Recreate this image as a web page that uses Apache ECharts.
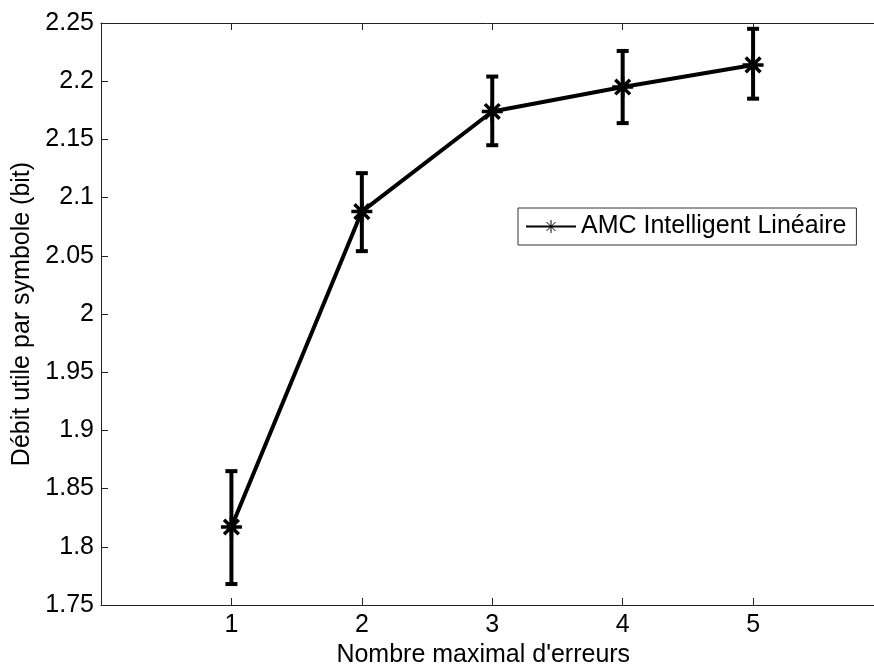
<!DOCTYPE html>
<html>
<head>
<meta charset="utf-8">
<script src="https://cdn.jsdelivr.net/npm/echarts@6/dist/echarts.min.js"></script>
<style>
  html, body { margin: 0; padding: 0; background: #fff; }
  #container { width: 874px; height: 666px; }
</style>
</head>
<body>
<div id="container"></div>
<script>
    // nombre maximal d'erreurs
    var xValues = [1, 2, 3, 4, 5];
    // débit moyen et bornes des barres d'erreur
    var debit = [1.817, 2.088, 2.174, 2.195, 2.214];
    var debitBas = [1.768, 2.054, 2.145, 2.164, 2.185];
    var debitHaut = [1.865, 2.121, 2.204, 2.226, 2.245];

    var serieNom = 'AMC Intelligent Linéaire';
    var fontFamily = 'Liberation Sans, Arial, sans-serif';
    var etoile = 'path://M10,0L10,20M0,10L20,10M3,3L17,17M3,17L17,3';

    var lineData = xValues.map(function (x, i) { return [x, debit[i]]; });
    var errData = xValues.map(function (x, i) { return [x, debitBas[i], debitHaut[i]]; });

    var option = {
        animation: false,
        backgroundColor: '#fff',
        textStyle: { fontFamily: fontFamily, color: '#000' },
        grid: { left: 101, right: -9.5, top: 23, bottom: 61, outerBoundsMode: 'none' },
        legend: {
            data: [serieNom],
            left: 518, top: 208,
            padding: [6, 10, 6, 7],
            borderColor: '#333', borderWidth: 1,
            backgroundColor: '#fff',
            itemWidth: 50, itemHeight: 16,
            itemStyle: { borderWidth: 1, borderColor: '#000' },
            textStyle: { fontSize: 25, color: '#000', fontFamily: fontFamily }
        },
        xAxis: [{
            type: 'value', min: 0, max: 6, interval: 1,
            name: "Nombre maximal d'erreurs",
            nameLocation: 'middle', nameGap: 35,
            nameTextStyle: { fontSize: 25, color: '#000', padding: [0, 18, 0, 0] },
            axisLine: { onZero: false, lineStyle: { color: '#222', width: 1 } },
            axisTick: { inside: true, length: 7, lineStyle: { color: '#222' } },
            axisLabel: {
                fontSize: 25, color: '#000', margin: 8,
                formatter: function (v) { return (v === 0 || v === 6) ? '' : String(v); }
            },
            splitLine: { show: false }
        }, {
            type: 'value', min: 0, max: 6, interval: 1, position: 'top',
            axisLine: { onZero: false, lineStyle: { color: '#222', width: 1 } },
            axisTick: { inside: true, length: 7, lineStyle: { color: '#222' } },
            axisLabel: { show: false },
            splitLine: { show: false }
        }],
        yAxis: {
            type: 'value', min: 1.75, max: 2.25, interval: 0.05,
            name: 'Débit utile par symbole (bit)',
            nameLocation: 'middle', nameGap: 66,
            nameTextStyle: { fontSize: 25, color: '#000' },
            axisLine: { show: true, lineStyle: { color: '#222', width: 1 } },
            axisTick: { inside: true, length: 7, lineStyle: { color: '#222' } },
            axisLabel: {
                fontSize: 25, color: '#000', margin: 7,
                formatter: function (v) { return String(+v.toFixed(2)); }
            },
            splitLine: { show: false }
        },
        series: [
            {
                name: 'err',
                type: 'custom',
                silent: true,
                renderItem: function (params, api) {
                    var x = api.value(0);
                    var bas = api.coord([x, api.value(1)]);
                    var haut = api.coord([x, api.value(2)]);
                    var demi = 6;
                    var st = { stroke: '#000', lineWidth: 4 };
                    return {
                        type: 'group',
                        children: [
                            { type: 'line', shape: { x1: bas[0], y1: bas[1], x2: haut[0], y2: haut[1] }, style: st },
                            { type: 'line', shape: { x1: bas[0] - demi, y1: bas[1], x2: bas[0] + demi, y2: bas[1] }, style: st },
                            { type: 'line', shape: { x1: haut[0] - demi, y1: haut[1], x2: haut[0] + demi, y2: haut[1] }, style: st }
                        ]
                    };
                },
                encode: { x: 0, y: [1, 2] },
                data: errData,
                z: 2
            },
            {
                name: serieNom,
                type: 'line',
                data: lineData,
                symbol: etoile,
                symbolSize: 21,
                showSymbol: true,
                lineStyle: { color: '#000', width: 4 },
                itemStyle: { color: '#000', borderColor: '#000', borderWidth: 3.5 },
                z: 3
            }
        ]
    };

    var myChart = echarts.init(document.getElementById('container'));
    myChart.setOption(option);
</script>
</body>
</html>
